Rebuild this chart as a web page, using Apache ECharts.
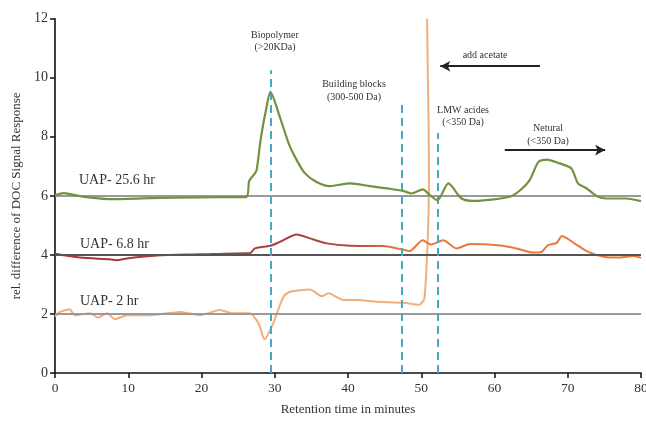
<!DOCTYPE html>
<html>
<head>
<meta charset="utf-8">
<script src="https://cdn.jsdelivr.net/npm/echarts@6/dist/echarts.min.js"></script>
<style>html,body{margin:0;padding:0;background:#fff}#c{width:646px;height:424px}</style>
</head>
<body>
<div id="c"></div>
<script>
// ---- data ----
const xTicks = [0, 10, 20, 30, 40, 50, 60, 70, 80];
const yTicks = [0, 2, 4, 6, 8, 10, 12];
const seriesNames = ['UAP- 25.6 hr', 'UAP- 6.8 hr', 'UAP- 2 hr'];
const baselines = [6, 4, 2];

const uap256 = [
  [0,6.02],[1.2,6.09],[3.4,5.99],[7.5,5.89],[13,5.92],[19.8,5.95],[26.1,5.96],
  [26.5,6.5],[27,6.67],[27.5,6.85],[28,7.78],[28.4,8.39],[28.8,8.9],[29.4,9.52],
  [30.7,8.67],[31.9,7.78],[33,7.21],[34.1,6.77],[35.7,6.47],[37.5,6.33],[40.3,6.42],
  [43,6.33],[45.7,6.24],[47.6,6.16],[48.7,6.08],[50.2,6.22],[51.2,6.02],[52.2,5.85],
  [53.7,6.42],[55.5,5.91],[57.1,5.83],[62.1,5.97],[63.5,6.19],[64.8,6.53],[66,7.15],
  [67.1,7.23],[68.9,7.1],[70.5,6.93],[71.4,6.42],[72.6,6.25],[74,5.99],[75.3,5.91],
  [78,5.91],[80,5.82]
];
const uap68 = [
  [0,4.04],[3.4,3.91],[7.5,3.85],[8.4,3.82],[9.8,3.88],[13.9,3.98],[19.8,4.02],
  [26.2,4.06],[26.6,4.06],[27.3,4.22],[29.4,4.31],[30.7,4.44],[33,4.69],[34.8,4.56],
  [37.1,4.39],[40.3,4.31],[44.8,4.3],[47.1,4.2],[48.4,4.13],[50.2,4.5],[51.3,4.35],
  [53,4.5],[54.8,4.22],[56.7,4.37],[60.8,4.32],[63,4.22],[65.3,4.08],[66.4,4.1],
  [67.3,4.33],[68.5,4.41],[69.2,4.64],[70.8,4.41],[72.8,4.1],[74.9,3.94],[77.1,3.91],
  [79,3.96],[80,3.9]
];
const uap2 = [
  [0,1.91],[0.7,2.07],[2,2.16],[2.7,1.96],[4.8,2.02],[5.9,1.88],[7.1,2.02],[8.2,1.82],
  [9.8,1.96],[13,1.96],[17.1,2.07],[19.8,1.96],[22.5,2.13],[24.3,2.02],[26.6,2.02],
  [27.8,1.68],[28.6,1.14],[29.8,1.68],[30.7,2.3],[31.3,2.62],[32.1,2.75],[34.8,2.83],
  [36.4,2.6],[37.3,2.7],[39.4,2.47],[41.2,2.47],[43.9,2.41],[47.6,2.38],[49.7,2.31],
  [50.4,2.5],[50.7,3.5],[50.95,5.0],[51.05,6.5],[51.0,8.5],[50.9,10.0],[50.8,12.0]
];
// region markers: [x, top y]
const regionLines = [[29.5, 10.25], [47.3, 9.24], [52.2, 8.13]];
// arrows: [x0, y0, x1, y1]
const arrows = [[66.2, 10.39, 52.6, 10.39], [61.4, 7.55, 75.1, 7.55]];

const serif = '"Liberation Serif", "DejaVu Serif", serif';
const chart = echarts.init(document.getElementById('c'), null, {renderer: 'canvas'});

function txt(x, y, s, size, align) {
  return {type: 'text', x: x, y: y,
    style: {text: s, font: size + 'px ' + serif, fill: '#333', align: align || 'center', verticalAlign: 'middle'}};
}

const option = {
  animation: false,
  backgroundColor: '#fff',
  grid: {left: 55, right: 5, top: 18.7, bottom: 51, containLabel: false, outerBoundsMode: 'none'},
  xAxis: {
    type: 'value', min: 0, max: 80, interval: 10,
    name: 'Retention time in minutes', nameLocation: 'middle', nameGap: 30,
    nameTextStyle: {fontFamily: serif, fontSize: 13, color: '#333'},
    axisLine: {onZero: false, lineStyle: {color: '#111', width: 1.6}},
    axisTick: {length: 5, lineStyle: {color: '#111', width: 1.5}},
    axisLabel: {fontFamily: serif, fontSize: 13.5, color: '#333', margin: 8},
    splitLine: {show: false}
  },
  yAxis: {
    type: 'value', min: 0, max: 12, interval: 2,
    name: 'rel. difference of DOC Signal Response', nameLocation: 'middle', nameGap: 27,
    nameTextStyle: {fontFamily: serif, fontSize: 13, color: '#333'},
    axisLine: {show: true, lineStyle: {color: '#111', width: 1.6}},
    axisTick: {show: true, length: 5, lineStyle: {color: '#111', width: 1.5}},
    axisLabel: {fontFamily: serif, fontSize: 14, color: '#333', margin: 7},
    splitLine: {show: false}
  },
  series: [
    {
      type: 'line', name: 'baselines', data: [], silent: true,
      markLine: {
        silent: true, symbol: ['none', 'none'], label: {show: false},
        data: baselines.map((b, i) => [
          {coord: [0, b], lineStyle: {color: i === 1 ? '#555' : '#9a9a9a', width: 1.8, type: 'solid'}},
          {coord: [80, b]}
        ])
      }
    },
    {
      type: 'line', name: 'regions', data: [], silent: true,
      markLine: {
        silent: true, symbol: ['none', 'none'], label: {show: false},
        lineStyle: {color: '#45a9c4', width: 2, type: [8, 5]},
        data: regionLines.map(r => [{coord: [r[0], 0]}, {coord: [r[0], r[1]]}])
      }
    },
    {
      type: 'line', name: 'arrows', data: [], silent: true,
      markLine: {
        silent: true, symbol: ['none', 'arrow'], symbolSize: [8, 10], label: {show: false},
        lineStyle: {color: '#222', width: 2, type: 'solid'},
        data: arrows.map(a => [{coord: [a[0], a[1]]}, {coord: [a[2], a[3]]}])
      }
    },
    {
      type: 'line', name: seriesNames[2], data: uap2, showSymbol: false, smooth: 0.2,
      lineStyle: {color: '#f5ad78', width: 2}, z: 3
    },
    {
      type: 'line', name: seriesNames[1], data: uap68, showSymbol: false, smooth: 0.25,
      lineStyle: {width: 2, color: new echarts.graphic.LinearGradient(0, 0, 1, 0, [
        {offset: 0, color: '#a8333a'}, {offset: 0.5, color: '#a8473f'},
        {offset: 0.58, color: '#e37a3e'}, {offset: 1, color: '#ec7a3a'}])}, z: 4
    },
    {
      type: 'line', name: seriesNames[0], data: uap256, showSymbol: false, smooth: 0.25,
      lineStyle: {color: '#72923e', width: 2.2}, z: 5
    }
  ],
  graphic: [
    txt(275, 35, 'Biopolymer', 10), txt(275, 47, '(>20KDa)', 10),
    txt(354, 84, 'Building blocks', 10), txt(354, 97, '(300-500 Da)', 10),
    txt(463, 110, 'LMW acides', 10), txt(463, 122, '(<350 Da)', 10),
    txt(485, 55, 'add acetate', 10),
    txt(548, 128, 'Netural', 10), txt(548, 141, '(<350 Da)', 10),
    txt(79, 180, seriesNames[0], 14, 'left'),
    txt(80, 244, seriesNames[1], 14, 'left'),
    txt(80, 301, seriesNames[2], 14, 'left')
  ]
};
chart.setOption(option);
</script>
</body>
</html>
